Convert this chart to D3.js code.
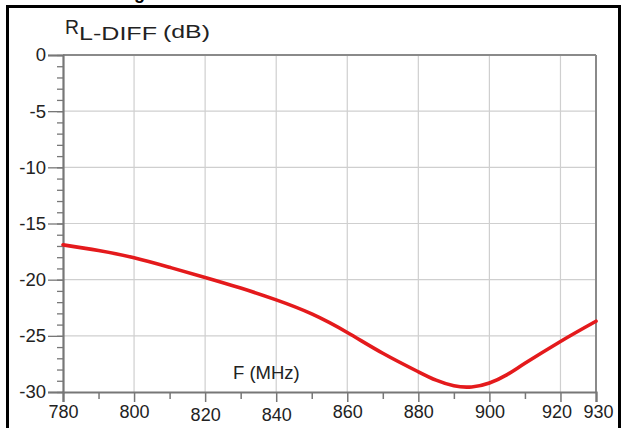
<!DOCTYPE html>
<html>
<head>
<meta charset="utf-8">
<script src="https://cdn.jsdelivr.net/npm/d3@7"></script>
<style>
  html, body { margin: 0; padding: 0; background: #fff; }
  svg text { font-family: Arial, "Liberation Sans", sans-serif; fill: #222; }
</style>
</head>
<body>
<svg id="chart" width="625" height="428"></svg>
<script>
// Data
const freqMHz = [780, 790, 800, 810, 820, 830, 840, 850, 860, 870, 880, 885, 890, 895, 900, 905, 910, 920, 930];
const rlDiff  = [-16.9, -17.4, -18.05, -18.9, -19.8, -20.75, -21.8, -23.05, -24.7, -26.55, -28.2, -28.95, -29.45, -29.55, -29.2, -28.45, -27.45, -25.5, -23.7];
const xTickLabels = [780, 800, 820, 840, 860, 880, 900, 920, 930];
const xMinorTicks = [790, 810, 830, 850, 870, 890, 910];
const yTickLabels = [0, -5, -10, -15, -20, -25, -30];
const yMinorTicks = d3.range(-30, 1, 1);
const xGrid = [800, 820, 840, 860, 880, 900, 920];
const yGrid = [-5, -10, -15, -20, -25];

const svg = d3.select("#chart");
const FONT = "Arial, 'Liberation Sans', sans-serif";

const x = d3.scaleLinear().domain([780, 930]).range([63, 596]);
const y = d3.scaleLinear().domain([-30, 0]).range([392, 55]);

// outer frame
svg.append("rect").attr("x", 7.5).attr("y", 6.5).attr("width", 612).attr("height", 440)
  .attr("fill", "none").attr("stroke", "#000").attr("stroke-width", 3);

// cropped heading fragment above frame
svg.append("text").attr("x", 134).attr("y", -1).attr("font-size", 18).attr("font-weight", "bold")
  .style("fill", "#000").text("g");

// grid
const g = svg.append("g");
g.selectAll(".vg").data(xGrid).join("line")
  .attr("x1", d => x(d)).attr("x2", d => x(d)).attr("y1", y(0)).attr("y2", y(-30))
  .attr("stroke", "#cfcfcf").attr("stroke-width", 1.2);
g.selectAll(".hg").data(yGrid).join("line")
  .attr("x1", x(780)).attr("x2", x(930)).attr("y1", d => y(d)).attr("y2", d => y(d))
  .attr("stroke", "#cfcfcf").attr("stroke-width", 1.2);

// plot border (top, right)
g.append("line").attr("x1", x(780)).attr("x2", x(930)).attr("y1", y(0)).attr("y2", y(0))
  .attr("stroke", "#8a8a8a").attr("stroke-width", 2);
g.append("line").attr("x1", x(930)).attr("x2", x(930)).attr("y1", y(0)).attr("y2", y(-30))
  .attr("stroke", "#8a8a8a").attr("stroke-width", 2);

// Y axis
const yAxisMinor = d3.axisLeft(y).tickValues(yMinorTicks).tickSize(6).tickFormat("");
const yAx1 = svg.append("g").attr("transform", `translate(${x(780)},0)`).call(yAxisMinor);
yAx1.select(".domain").remove();
yAx1.selectAll("line").attr("stroke", "#777").attr("stroke-width", 1.3);

const yAxis = d3.axisLeft(y).tickValues(yTickLabels).tickSize(15).tickPadding(2).tickFormat(d => String(d));
const yAx = svg.append("g").attr("transform", `translate(${x(780)},0)`).call(yAxis);
yAx.select(".domain").attr("stroke", "#777").attr("stroke-width", 2.2);
yAx.selectAll("line").attr("stroke", "#777").attr("stroke-width", 1.3);
yAx.selectAll("text").attr("font-size", 18.5).style("font-family", FONT).style("fill", "#222");

// X axis
const xAxisMinor = d3.axisBottom(x).tickValues(xMinorTicks).tickSize(7).tickFormat("");
const xAx1 = svg.append("g").attr("transform", `translate(0,${y(-30)})`).call(xAxisMinor);
xAx1.select(".domain").remove();
xAx1.selectAll("line").attr("stroke", "#777").attr("stroke-width", 1.5);

const xAxis = d3.axisBottom(x).tickValues(xTickLabels).tickSize(10).tickPadding(2).tickFormat(d => String(d));
const xAx = svg.append("g").attr("transform", `translate(0,${y(-30)})`).call(xAxis);
xAx.select(".domain").attr("stroke", "#777").attr("stroke-width", 2.2);
xAx.selectAll("line").attr("stroke", "#777").attr("stroke-width", 1.5);
xAx.selectAll("text").attr("font-size", 18).style("font-family", FONT).style("fill", "#222")
  .attr("dy", d => (d === 820 || d === 840) ? "0.95em" : "0.78em")
  .attr("dx", d => d === 920 ? -4 : (d === 930 ? 2 : 0));

// curve
const line = d3.line().x((d, i) => x(freqMHz[i])).y(d => y(d)).curve(d3.curveNatural);
svg.append("path").datum(rlDiff).attr("d", line)
  .attr("fill", "none").attr("stroke", "#e41a1c").attr("stroke-width", 3.6)
  .attr("stroke-linejoin", "round").attr("stroke-linecap", "round");

// Title (separate pieces, stretched to the reference widths)
svg.append("text").attr("x", 65).attr("y", 34).attr("font-size", 19.5)
  .attr("textLength", 14).attr("lengthAdjust", "spacingAndGlyphs").text("R");
svg.append("text").attr("x", 79).attr("y", 40).attr("font-size", 19)
  .attr("textLength", 78).attr("lengthAdjust", "spacingAndGlyphs").text("L-DIFF");
svg.append("text").attr("x", 163).attr("y", 37.5).attr("font-size", 17.5)
  .attr("textLength", 47).attr("lengthAdjust", "spacingAndGlyphs").text("(dB)");

// X axis label
svg.append("text").attr("x", 233).attr("y", 379).attr("font-size", 18.5).text("F (MHz)");
</script>
</body>
</html>
